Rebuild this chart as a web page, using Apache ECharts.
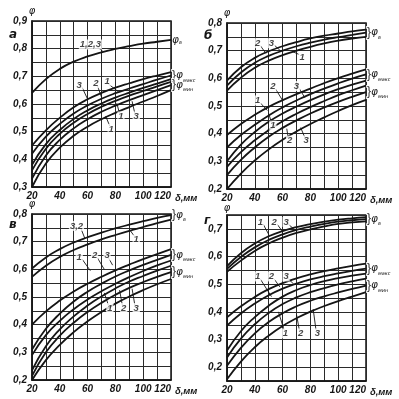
<!DOCTYPE html>
<html><head><meta charset="utf-8">
<script src="https://cdn.jsdelivr.net/npm/echarts@6/dist/echarts.min.js"></script>
<style>html,body{margin:0;padding:0;background:#fff}#c{width:399px;height:399px}</style>
</head><body><div id="c"></div>
<script>
// thickness delta, mm
const X = [20,30,40,50,60,70,80,90,100,110,120];

// Panel а
const A_V    = [0.640,0.690,0.727,0.753,0.772,0.787,0.799,0.809,0.818,0.825,0.832];
const A_MAX1 = [0.450,0.505,0.550,0.588,0.617,0.640,0.659,0.675,0.690,0.703,0.715];
const A_MAX2 = [0.420,0.482,0.528,0.566,0.595,0.619,0.639,0.656,0.672,0.688,0.703];
const A_MAX3 = [0.380,0.455,0.506,0.546,0.577,0.602,0.623,0.641,0.658,0.674,0.690];
const A_MIN1 = [0.360,0.438,0.492,0.532,0.564,0.590,0.611,0.630,0.647,0.664,0.680];
const A_MIN2 = [0.330,0.414,0.470,0.512,0.545,0.572,0.594,0.614,0.632,0.650,0.668];
const A_MIN3 = [0.300,0.385,0.442,0.485,0.518,0.545,0.568,0.589,0.609,0.629,0.650];

// Panel б
const B_V1   = [0.592,0.640,0.674,0.698,0.716,0.731,0.744,0.754,0.762,0.770,0.776];
const B_V2   = [0.574,0.621,0.656,0.681,0.700,0.716,0.729,0.740,0.749,0.757,0.765];
const B_V3   = [0.556,0.602,0.638,0.664,0.684,0.700,0.714,0.726,0.736,0.744,0.750];
const B_MAX1 = [0.395,0.435,0.468,0.497,0.521,0.543,0.563,0.583,0.601,0.617,0.632];
const B_MAX2 = [0.350,0.395,0.432,0.466,0.495,0.520,0.543,0.563,0.582,0.599,0.614];
const B_MAX3 = [0.300,0.360,0.406,0.443,0.473,0.498,0.521,0.542,0.561,0.577,0.592];
const B_MIN1 = [0.280,0.333,0.376,0.413,0.445,0.472,0.496,0.518,0.539,0.557,0.574];
const B_MIN2 = [0.250,0.305,0.350,0.389,0.421,0.448,0.473,0.495,0.515,0.533,0.550];
const B_MIN3 = [0.200,0.256,0.303,0.343,0.378,0.408,0.435,0.459,0.482,0.503,0.522];

// Panel в
const C_V1   = [0.603,0.643,0.673,0.697,0.716,0.733,0.748,0.762,0.774,0.786,0.796];
const C_V2   = [0.573,0.613,0.645,0.670,0.690,0.708,0.724,0.739,0.753,0.767,0.780];
const C_MAX1 = [0.400,0.448,0.487,0.520,0.548,0.573,0.596,0.617,0.637,0.655,0.673];
const C_MAX2 = [0.310,0.385,0.440,0.484,0.519,0.548,0.574,0.596,0.616,0.634,0.652];
const C_MAX3 = [0.290,0.362,0.414,0.456,0.491,0.521,0.548,0.572,0.594,0.614,0.632];
const C_MIN1 = [0.235,0.322,0.383,0.430,0.469,0.502,0.531,0.556,0.576,0.595,0.613];
const C_MIN2 = [0.215,0.300,0.360,0.407,0.446,0.479,0.508,0.533,0.554,0.573,0.590];
const C_MIN3 = [0.200,0.272,0.327,0.373,0.412,0.446,0.476,0.502,0.525,0.546,0.565];

// Panel г
const D_V1   = [0.565,0.612,0.647,0.673,0.692,0.706,0.717,0.726,0.733,0.738,0.742];
const D_V2   = [0.555,0.598,0.633,0.660,0.680,0.696,0.708,0.718,0.726,0.731,0.735];
const D_V3   = [0.545,0.585,0.620,0.647,0.668,0.685,0.698,0.709,0.718,0.723,0.727];
const D_MAX1 = [0.380,0.420,0.454,0.482,0.504,0.521,0.535,0.547,0.557,0.566,0.574];
const D_MAX2 = [0.350,0.394,0.430,0.460,0.484,0.502,0.517,0.529,0.539,0.548,0.556];
const D_MAX3 = [0.260,0.330,0.381,0.422,0.455,0.479,0.497,0.511,0.522,0.531,0.538];
const D_MIN1 = [0.235,0.303,0.355,0.396,0.428,0.452,0.471,0.486,0.499,0.510,0.520];
const D_MIN2 = [0.205,0.270,0.322,0.363,0.395,0.420,0.440,0.456,0.470,0.483,0.495];
const D_MIN3 = [0.156,0.220,0.272,0.314,0.349,0.377,0.401,0.421,0.439,0.455,0.471];

// Curve-number annotations: [text, textX, textY, leaderX1, leaderY1, leaderX2, leaderY2]
const A_NOTES = [['1,2,3',62,0.815,67,0.806,71,0.790],['3',54,0.668,56,0.660,60,0.618],['2',66,0.675,67,0.667,70,0.625],['1',74,0.680,75,0.672,82,0.645],
  ['1',84,0.555,83,0.565,81,0.603],['3',95,0.555,94,0.565,92,0.610],['1',77,0.510,76,0.520,73,0.556]];
const B_NOTES = [['2',42,0.727,44,0.718,48,0.690],['3',52,0.727,54,0.720,58,0.702],['1',74,0.676,72,0.686,67,0.697],
  ['2',53,0.570,55,0.561,60,0.520],['3',70,0.572,72,0.563,76,0.530],['1',42,0.520,44,0.511,49,0.484],
  ['1',53,0.429,52,0.440,50,0.473],['2',65,0.375,64,0.386,63,0.418],['3',77,0.375,76,0.386,73,0.422]];
const C_NOTES = [['3,2',52,0.757,55,0.750,58,0.712],['1',95,0.707,94,0.717,90,0.745],
  ['1',54,0.645,56,0.637,62,0.595],['2',65,0.650,67,0.642,72,0.600],['3',74,0.650,75,0.642,78,0.615],
  ['1',76,0.460,75,0.470,72,0.515],['2',86,0.460,85,0.470,83,0.525],['3',95,0.460,94,0.470,92,0.530]];
const D_NOTES = [['1',44,0.725,46,0.717,50,0.680],['2',54,0.725,56,0.717,60,0.690],['3',62.5,0.725,64,0.717,68,0.700],
  ['1',42,0.528,44,0.518,52,0.455],['2',52,0.528,54,0.518,58,0.490],['3',62.5,0.528,64,0.520,68,0.500],
  ['1',62,0.322,61,0.335,57,0.400],['2',73,0.322,72,0.335,70,0.390],['3',85,0.322,84,0.335,82,0.410]];

const panels = [
  {letter:'а', left:32, top:21, ymin:0.30, ymax:0.90, v:[A_V], vLabel:0, mx:[A_MAX1,A_MAX2,A_MAX3], mn:[A_MIN1,A_MIN2,A_MIN3], notes:A_NOTES, single:true, ldy:8},
  {letter:'б', left:227, top:23, ymin:0.20, ymax:0.80, v:[B_V1,B_V2,B_V3], vLabel:1, mx:[B_MAX1,B_MAX2,B_MAX3], mn:[B_MIN1,B_MIN2,B_MIN3], notes:B_NOTES, ldy:7},
  {letter:'в', left:32, top:214, ymin:0.20, ymax:0.80, v:[C_V1,C_V2], vLabel:0, mx:[C_MAX1,C_MAX2,C_MAX3], mn:[C_MIN1,C_MIN2,C_MIN3], notes:C_NOTES, ldy:5},
  {letter:'г', left:227, top:215, ymin:0.15, ymax:0.75, v:[D_V1,D_V2,D_V3], vLabel:1, mx:[D_MAX1,D_MAX2,D_MAX3], mn:[D_MIN1,D_MIN2,D_MIN3], notes:D_NOTES, ldy:0}
];

const INK = '#151515';
const FONT = 'DejaVu Sans';
const LFONT = 'Liberation Sans';
const grids=[], xAxes=[], yAxes=[], series=[], graphics=[];
const rich = {
  br:{fontSize:15, fontFamily:FONT, color:INK, lineHeight:15},
  p:{fontSize:10.5, fontFamily:FONT, fontStyle:'italic', color:INK},
  s:{fontSize:5, fontFamily:FONT, fontStyle:'italic', color:INK, verticalAlign:'bottom', padding:[6,0,0,0]}
};
function endLab(sub, brace){
  return {show:true, distance:1, formatter:(brace?'{br|}}':'')+'{p|φ}{s|'+sub+'}', rich:rich};
}

panels.forEach((P,i)=>{
  grids.push({left:P.left, top:P.top, width:139, height:166, show:true, borderColor:INK, borderWidth:1.5});
  xAxes.push({gridIndex:i, type:'value', min:20, max:120, interval:10,
    axisLine:{lineStyle:{color:INK,width:1.5}}, axisTick:{show:false},
    splitLine:{show:true, lineStyle:{color:'#2a2a2a', width:1}},
    axisLabel:{formatter:v=> (v%20===0? String(v):''), fontSize:10, fontStyle:'italic', fontWeight:'bold', fontFamily:LFONT, color:INK, margin:4, alignMaxLabel:'right'},
    name:'δ,мм', nameLocation:'end', nameGap:2,
    nameTextStyle:{fontSize:9.5, fontStyle:'italic', fontWeight:'bold', fontFamily:LFONT, color:INK, verticalAlign:'top', padding:[6,0,0,0]}});
  yAxes.push({gridIndex:i, type:'value', min:P.ymin, max:P.ymax, interval:0.05,
    axisLine:{lineStyle:{color:INK,width:1.5}}, axisTick:{show:false},
    splitLine:{show:true, lineStyle:{color:'#2a2a2a', width:1}},
    axisLabel:{formatter:v=>{const t=v*10; return Math.abs(t-Math.round(t))<1e-6 ? v.toFixed(1).replace('.',',') : '';},
      fontSize:10, fontStyle:'italic', fontWeight:'bold', fontFamily:LFONT, color:INK, margin:5},
    name:'φ', nameLocation:'end', nameGap:2,
    nameTextStyle:{fontSize:10, fontStyle:'italic', fontFamily:FONT, color:INK, align:'center'}});
  const base = {type:'line', xAxisIndex:i, yAxisIndex:i, smooth:true, symbol:'none', silent:true,
    lineStyle:{color:INK, width:1.8}, z:3};
  P.v.forEach((arr,k)=>{
    const s = Object.assign({}, base, {data:X.map((x,j)=>[x,arr[j]])});
    if(k===P.vLabel) s.endLabel = endLab('в', !P.single);
    series.push(s);
  });
  P.mx.forEach((arr,k)=>{
    const s = Object.assign({}, base, {data:X.map((x,j)=>[x,arr[j]])});
    if(k===1) s.endLabel = endLab('макс', true);
    series.push(s);
  });
  P.mn.forEach((arr,k)=>{
    const s = Object.assign({}, base, {data:X.map((x,j)=>[x,arr[j]])});
    if(k===1) s.endLabel = endLab('мин', true);
    series.push(s);
  });
  series.push({type:'lines', coordinateSystem:'cartesian2d', xAxisIndex:i, yAxisIndex:i, silent:true, z:4,
    lineStyle:{color:INK, width:0.9, opacity:1},
    data:P.notes.map(n=>({coords:[[n[3],n[4]],[n[5],n[6]]]}))});
  series.push({type:'scatter', xAxisIndex:i, yAxisIndex:i, symbolSize:0, silent:true, z:5,
    label:{show:true, position:'inside', fontSize:9.5, fontStyle:'italic', fontWeight:'bold', fontFamily:LFONT, color:INK,
      backgroundColor:'#fff', padding:[0,1,0,1]},
    data:P.notes.map(n=>({value:[n[1],n[2]], label:{formatter:n[0]}}))});
  graphics.push({type:'text', left:P.left-23, top:P.top+P.ldy,
    style:{text:P.letter, font:'italic bold 12px "DejaVu Sans"', fill:INK}});
});

const chart = echarts.init(document.getElementById('c'), null, {renderer:'canvas'});
chart.setOption({backgroundColor:'#fff', animation:false, grid:grids, xAxis:xAxes, yAxis:yAxes, series:series, graphic:graphics});
</script></body></html>
